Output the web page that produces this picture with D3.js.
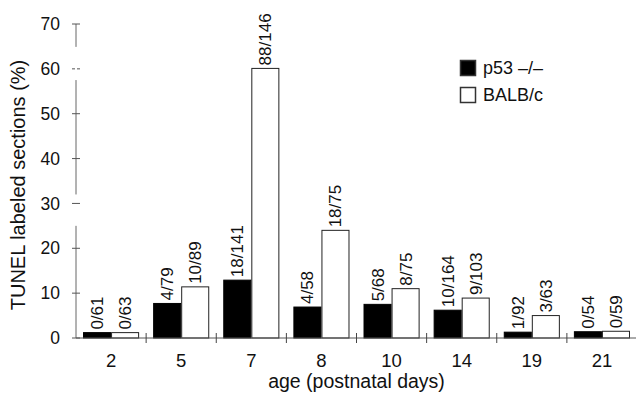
<!DOCTYPE html>
<html>
<head>
<meta charset="utf-8">
<script src="https://cdn.jsdelivr.net/npm/d3@7"></script>
<style>
  body { margin: 0; background: #fff; }
  svg { display: block; font-family: "Liberation Sans", Arial, sans-serif; }
</style>
</head>
<body>
<script>
// chart values
var days = ["2", "5", "7", "8", "10", "14", "19", "21"];
var series = ["p53 \u2013/\u2013", "BALB/c"];
var p53Values = [1.2, 7.7, 12.9, 6.9, 7.5, 6.2, 1.3, 1.4];
var balbValues = [1.2, 11.4, 60.1, 24.0, 11.0, 8.9, 5.0, 1.5];
var p53Labels = ["0/61", "4/79", "18/141", "4/58", "5/68", "10/164", "1/92", "0/54"];
var balbLabels = ["0/63", "10/89", "88/146", "18/75", "8/75", "9/103", "3/63", "0/59"];
var yTicks = [0, 10, 20, 30, 40, 50, 60, 70];
var axisPieces = [[0, 25], [32, 57.5], [64.9, 70]];

var width = 636, height = 396;
var margin = {top: 24, right: 0, bottom: 58, left: 76};

var svg = d3.select("body").append("svg")
    .attr("width", width)
    .attr("height", height);

var x0 = d3.scaleBand().domain(days)
    .range([margin.left, 637])
    .paddingInner(0.2).paddingOuter(0.1);
var x1 = d3.scaleBand().domain(series).range([0, x0.bandwidth()]);
var y = d3.scaleLinear().domain([0, 70]).range([338, margin.top]);

var rows = days.map(function(d, i) {
  return [
    {day: d, s: series[0], v: p53Values[i], lab: p53Labels[i]},
    {day: d, s: series[1], v: balbValues[i], lab: balbLabels[i]}
  ];
});

var g = svg.selectAll(".grp").data(rows).enter().append("g")
    .attr("class", "grp")
    .attr("transform", function(d) { return "translate(" + x0(d[0].day) + ",0)"; });

g.selectAll("rect").data(function(d) { return d; }).enter().append("rect")
    .attr("x", function(d) { return x1(d.s) + 0.5; })
    .attr("y", function(d) { return y(d.v); })
    .attr("width", x1.bandwidth() - 1)
    .attr("height", function(d) { return y(0) - y(d.v); })
    .attr("fill", function(d) { return d.s == series[0] ? "#000" : "#fff"; })
    .attr("stroke", function(d) { return d.s == series[0] ? "#000" : "#222"; })
    .attr("stroke-width", 1);

g.selectAll("text").data(function(d) { return d; }).enter().append("text")
    .attr("transform", function(d) {
      var cx = x1(d.s) + x1.bandwidth() / 2 + 6;
      return "translate(" + cx + "," + (y(d.v) - 3) + ") rotate(-90)";
    })
    .style("font-size", "17px")
    .attr("fill", "#111")
    .text(function(d) { return d.lab; });

// x axis baseline with ticks between groups
var step = x0.step();
svg.append("line")
    .attr("x1", margin.left).attr("x2", 636)
    .attr("y1", y(0)).attr("y2", y(0))
    .attr("stroke", "#555").attr("stroke-width", 1);

svg.selectAll(".xtick").data(d3.range(1, days.length)).enter().append("line")
    .attr("x1", function(i) { return margin.left + i * step; })
    .attr("x2", function(i) { return margin.left + i * step; })
    .attr("y1", y(0) - 5).attr("y2", y(0) + 5)
    .attr("stroke", "#444").attr("stroke-width", 1);

svg.selectAll(".xlab").data(days).enter().append("text")
    .attr("x", function(d) { return x0(d) + x0.bandwidth() / 2; })
    .attr("y", 367)
    .attr("text-anchor", "middle")
    .style("font-size", "18.5px")
    .attr("fill", "#111")
    .text(function(d) { return d; });

svg.append("text")
    .attr("x", (margin.left + 637) / 2)
    .attr("y", 388)
    .attr("text-anchor", "middle")
    .style("font-size", "19.5px")
    .attr("fill", "#111")
    .text("age (postnatal days)");

// y axis, broken in two places like the original
svg.selectAll(".ypiece").data(axisPieces).enter().append("line")
    .attr("x1", margin.left).attr("x2", margin.left)
    .attr("y1", function(d) { return y(d[0]); })
    .attr("y2", function(d) { return y(d[1]); })
    .attr("stroke", "#666").attr("stroke-width", 1);

svg.selectAll(".ytick").data(yTicks).enter().append("line")
    .attr("x1", margin.left - 4).attr("x2", margin.left + 4)
    .attr("y1", function(d) { return y(d); })
    .attr("y2", function(d) { return y(d); })
    .attr("stroke", "#555").attr("stroke-width", 1)
    .attr("stroke-dasharray", function(d) { return d == 60 ? "3,2" : null; });

svg.selectAll(".ylab").data(yTicks).enter().append("text")
    .attr("x", 60)
    .attr("y", function(d) { return y(d); })
    .attr("dy", "0.35em")
    .attr("text-anchor", "end")
    .style("font-size", "17.5px")
    .attr("fill", "#111")
    .text(function(d) { return d; });

svg.append("text")
    .attr("transform", "translate(25,185) rotate(-90)")
    .attr("text-anchor", "middle")
    .style("font-size", "20px")
    .attr("fill", "#111")
    .text("TUNEL labeled sections (%)");

// legend
var legend = svg.selectAll(".leg").data(series).enter().append("g")
    .attr("transform", function(d, i) { return "translate(460," + (60 + i * 27) + ")"; });

legend.append("rect")
    .attr("x", 0.5).attr("y", 0.5)
    .attr("width", 15).attr("height", 15)
    .attr("fill", function(d, i) { return i == 0 ? "#000" : "#fff"; })
    .attr("stroke", "#333").attr("stroke-width", 1.5);

legend.append("text")
    .attr("x", 23).attr("y", 14)
    .style("font-size", "18px")
    .attr("fill", "#111")
    .text(function(d) { return d; });
</script>
</body>
</html>
